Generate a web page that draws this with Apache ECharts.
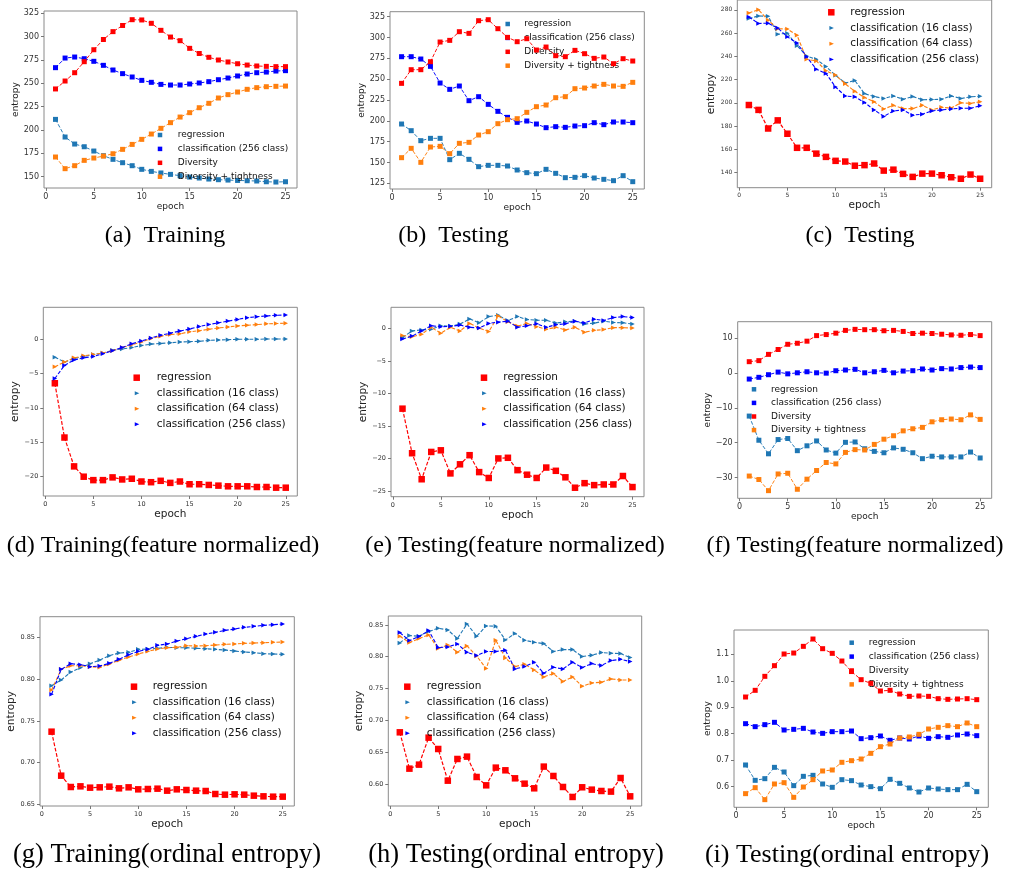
<!DOCTYPE html>
<html>
<head>
<meta charset="utf-8">
<script src="https://cdn.jsdelivr.net/npm/echarts@6/dist/echarts.min.js"></script>
<style>
html,body{margin:0;padding:0;background:#fff;}
#chart{width:1012px;height:871px;}
</style>
</head>
<body>
<div id="chart"></div>
<script>
// ---------------- data ----------------
const epochs = [1,2,3,4,5,6,7,8,9,10,11,12,13,14,15,16,17,18,19,20,21,22,23,24,25];
const xTicks = [0,5,10,15,20,25];

// (a) Training
const a_regression = [211.4,192.5,185.0,182.1,177.5,172.5,168.6,165.0,161.8,157.9,155.7,154.0,152.5,151.1,149.6,148.6,147.5,146.8,146.4,146.0,145.7,145.4,144.6,144.3,144.6];
const a_cls256 = [266.8,277.1,278.2,276.4,273.6,269.3,264.3,260.4,256.8,253.2,251.1,248.9,248.2,248.2,249.3,250.4,251.8,253.9,255.7,257.9,260.0,261.4,262.1,263.2,263.6];
const a_diversity = [244.0,252.5,261.4,273.2,286.0,297.0,305.4,312.0,318.2,317.9,314.3,306.8,299.6,295.7,287.5,282.0,277.9,275.0,272.9,271.0,269.6,268.6,268.2,267.9,267.9];
const a_divTight = [171.1,158.6,161.8,167.5,170.0,172.1,174.6,179.3,184.6,190.0,195.7,201.8,207.9,213.9,218.6,223.9,228.6,234.3,237.9,240.7,243.6,245.4,246.4,246.8,247.1];
const a_yTicks = [150,175,200,225,250,275,300,325];

// (b) Testing
const b_regression = [196.2,188.2,176.2,179.0,179.0,153.4,161.0,153.8,145.0,146.6,146.6,145.8,141.0,137.8,136.6,141.8,137.0,131.8,132.2,134.2,131.4,129.8,128.2,134.2,127.0];
const b_cls256 = [277.0,277.0,274.2,265.4,245.4,237.8,241.8,224.2,229.0,219.8,211.4,204.2,198.2,199.8,196.2,191.8,193.0,192.2,193.8,194.2,197.8,195.4,198.6,198.6,197.8];
const b_diversity = [245.0,261.4,261.4,271.0,294.6,296.6,307.0,305.0,320.2,321.4,310.6,300.2,295.0,298.6,285.0,288.6,278.2,277.0,284.6,280.6,275.0,276.6,268.6,274.6,271.8];
const b_divTight = [155.8,167.0,150.2,168.6,169.4,160.6,173.0,174.2,183.0,187.0,196.6,201.4,202.6,210.2,217.0,219.0,227.8,229.0,238.6,239.4,241.8,243.8,241.8,241.4,246.2];
const b_yTicks = [125,150,175,200,225,250,275,300,325];

// (c) Testing
const c_regression = [198.1,193.9,177.9,184.9,173.4,161.3,161.3,156.3,153.5,150.1,149.5,145.9,146.4,147.8,141.7,142.5,138.9,136.3,139.1,139.1,137.7,136.0,134.7,138.3,134.7];
const c_cls16 = [272.4,274.7,274.4,259.0,259.8,249.1,240.2,237.4,231.2,223.6,217.1,219.1,207.9,205.4,203.7,205.9,203.1,205.4,202.6,202.8,203.1,205.9,203.7,205.1,205.6];
const c_cls64 = [277.2,280.0,271.0,263.7,263.4,258.1,237.4,236.0,227.5,223.9,216.3,209.9,204.5,200.9,194.7,197.8,195.0,195.0,197.8,193.9,196.1,195.5,200.0,199.5,200.9];
const c_cls256 = [273.8,268.2,268.5,264.3,256.7,251.4,239.6,228.9,225.3,213.5,205.9,205.1,200.3,193.9,188.3,193.0,193.9,189.4,190.2,193.0,193.9,194.7,195.3,195.3,197.5];
const c_yTicks = [140,160,180,200,220,240,260,280];

// (d) Training (feature normalized)
const d_regression = [-6.4,-14.3,-18.5,-20.0,-20.5,-20.5,-20.1,-20.4,-20.3,-20.7,-20.8,-20.6,-20.9,-20.7,-21.1,-21.1,-21.2,-21.3,-21.4,-21.4,-21.4,-21.5,-21.5,-21.6,-21.6];
const d_cls16 = [-2.6,-3.3,-2.8,-2.5,-2.2,-2.0,-1.6,-1.4,-1.2,-0.9,-0.7,-0.6,-0.5,-0.4,-0.34,-0.3,-0.15,-0.1,-0.05,0.0,0.0,0.0,0.05,0.05,0.05];
const d_cls64 = [-4.0,-3.3,-2.7,-2.4,-2.2,-2.0,-1.65,-1.2,-0.8,-0.4,0.1,0.45,0.7,0.8,1.1,1.25,1.45,1.65,1.8,1.95,2.05,2.15,2.25,2.3,2.35];
const d_cls256 = [-5.7,-3.8,-3.0,-2.7,-2.5,-2.1,-1.65,-1.2,-0.65,-0.25,0.2,0.6,0.9,1.2,1.5,1.85,2.15,2.4,2.65,2.9,3.15,3.3,3.4,3.5,3.55];
const d_yTicks = [-20,-15,-10,-5,0];

// (e) Testing (feature normalized)
const e_regression = [-12.35,-19.2,-23.2,-19.0,-18.75,-22.3,-20.9,-19.5,-22.1,-23.0,-20.0,-19.9,-21.8,-22.5,-23.0,-21.4,-21.9,-22.9,-24.5,-23.8,-24.1,-24.0,-24.0,-22.7,-24.4];
const e_cls16 = [-1.4,-0.4,-0.25,-0.15,0.4,0.35,0.65,1.45,0.85,1.8,2.0,1.2,1.8,1.35,1.25,1.25,0.8,1.0,1.1,0.65,0.8,1.1,0.9,0.85,0.65];
const e_cls64 = [-1.1,-1.3,-0.9,0.15,-0.75,0.15,-0.4,0.75,0.05,-0.5,1.9,1.0,0.35,0.75,0.25,-0.15,0.15,-0.25,0.15,-0.6,-0.3,-0.2,0.1,0.1,0.05];
const e_cls256 = [-1.65,-1.2,-0.4,0.4,0.25,0.3,0.5,0.15,0.05,0.75,0.95,1.1,0.15,0.4,0.7,0.15,0.55,0.7,1.1,0.8,1.4,1.2,1.65,1.8,1.65];
const e_yTicks = [-25,-20,-15,-10,-5,0];

// (f) Testing (feature normalized)
const f_regression = [-12.35,-19.3,-23.2,-19.1,-18.8,-22.3,-20.9,-19.5,-22.1,-23.0,-19.9,-19.8,-21.75,-22.5,-22.9,-21.5,-21.9,-22.9,-24.6,-23.9,-24.1,-24.1,-24.1,-22.7,-24.4];
const f_cls256 = [-1.7,-1.2,-0.45,0.3,-0.2,0.1,0.4,0.1,0.0,0.7,0.9,1.1,0.1,0.4,0.8,0.1,0.6,0.7,1.2,0.9,1.3,1.2,1.6,1.75,1.6];
const f_diversity = [3.3,3.6,5.4,6.8,8.3,8.6,9.2,10.8,11.1,11.5,12.3,12.6,12.5,12.5,12.2,12.3,12.0,11.4,11.5,11.4,11.2,11.0,10.9,11.1,10.8];
const f_divTight = [-29.6,-30.6,-33.8,-29.0,-28.8,-33.4,-30.5,-28.0,-25.7,-26.1,-22.8,-22.0,-22.1,-20.5,-19.0,-18.0,-16.6,-16.0,-15.6,-14.0,-13.4,-13.2,-13.4,-12.0,-13.3];
const f_yTicks = [-30,-20,-10,0,10];

// (g) Training (ordinal entropy)
const g_regression = [0.7372,0.6844,0.6708,0.6716,0.6700,0.6704,0.6712,0.6692,0.6704,0.6680,0.6684,0.6688,0.6664,0.6680,0.6672,0.6664,0.6660,0.6624,0.6616,0.6620,0.6616,0.6604,0.6596,0.6592,0.6592];
const g_cls16 = [0.7924,0.7992,0.8088,0.8140,0.8188,0.8232,0.8284,0.8316,0.8324,0.8360,0.8364,0.8372,0.8384,0.8380,0.8380,0.8372,0.8368,0.8360,0.8352,0.8340,0.8328,0.8320,0.8308,0.8304,0.8300];
const g_cls64 = [0.7872,0.8120,0.8164,0.8164,0.8152,0.8144,0.8184,0.8228,0.8268,0.8304,0.8336,0.8364,0.8380,0.8384,0.8404,0.8400,0.8404,0.8412,0.8420,0.8424,0.8432,0.8436,0.8440,0.8444,0.8448];
const g_cls256 = [0.7820,0.8120,0.8188,0.8176,0.8152,0.8160,0.8192,0.8240,0.8296,0.8336,0.8360,0.8408,0.8424,0.8460,0.8488,0.8516,0.8544,0.8564,0.8588,0.8604,0.8624,0.8636,0.8648,0.8656,0.8664];
const g_yTicks = [0.65,0.70,0.75,0.80,0.85];

// (h) Testing (ordinal entropy)
const h_regression = [0.6812,0.6241,0.6304,0.6728,0.6550,0.6052,0.6393,0.6430,0.6110,0.5979,0.6257,0.6215,0.6089,0.6005,0.5932,0.6273,0.6126,0.5953,0.5796,0.5948,0.5911,0.5890,0.5880,0.6094,0.5806];
const h_cls16 = [0.8217,0.8332,0.8322,0.8395,0.8448,0.8421,0.8285,0.8516,0.8322,0.8484,0.8479,0.8264,0.8364,0.8259,0.8227,0.8206,0.8081,0.8112,0.8112,0.8002,0.8023,0.8065,0.8055,0.8049,0.7986];
const h_cls64 = [0.8322,0.8222,0.8285,0.8343,0.8128,0.8186,0.8070,0.8170,0.8013,0.7813,0.8259,0.7981,0.7845,0.7882,0.7792,0.7682,0.7735,0.7609,0.7682,0.7536,0.7588,0.7599,0.7651,0.7635,0.7635];
const h_cls256 = [0.8379,0.8254,0.8317,0.8411,0.8144,0.8154,0.8201,0.8070,0.8018,0.8081,0.8081,0.8102,0.7808,0.7845,0.7913,0.7740,0.7834,0.7808,0.7913,0.7829,0.7892,0.7861,0.7939,0.7960,0.7923];
const h_yTicks = [0.60,0.65,0.70,0.75,0.80,0.85];

// (i) Testing (ordinal entropy)
const i_regression = [0.6819,0.6239,0.6302,0.6730,0.6554,0.6038,0.6390,0.6428,0.6101,0.5975,0.6264,0.6227,0.6063,0.6000,0.5924,0.6277,0.6126,0.5950,0.5798,0.5950,0.5912,0.5887,0.5887,0.6088,0.5811];
const i_cls256 = [0.8380,0.8267,0.8343,0.8431,0.8141,0.8166,0.8204,0.8065,0.8015,0.8078,0.8078,0.8103,0.7814,0.7851,0.7914,0.7751,0.7839,0.7801,0.7914,0.7826,0.7889,0.7864,0.7952,0.7990,0.7927];
const i_diversity = [0.9388,0.9640,1.0169,1.0572,1.1013,1.1050,1.1302,1.1579,1.1214,1.1038,1.0748,1.0350,1.0043,0.9904,0.9615,0.9640,0.9501,0.9413,0.9426,0.9413,0.9325,0.9300,0.9312,0.9325,0.9287];
const i_divTight = [0.5736,0.5962,0.5509,0.6101,0.6151,0.5597,0.5987,0.6264,0.6592,0.6630,0.6920,0.6982,0.7045,0.7259,0.7511,0.7612,0.7839,0.7877,0.7977,0.8179,0.8242,0.8305,0.8267,0.8406,0.8267];
const i_yTicks = [0.6,0.7,0.8,0.9,1.0,1.1];

const captions = [
  '(a)  Training','(b)  Testing','(c)  Testing',
  '(d) Training(feature normalized)','(e) Testing(feature normalized)','(f) Testing(feature normalized)',
  '(g) Training(ordinal entropy)','(h) Testing(ordinal entropy)','(i) Testing(ordinal entropy)'
];
const seriesNamesDiv = ['regression','classification (256 class)','Diversity','Diversity + tightness'];
const seriesNamesCls = ['regression','classification (16 class)','classification (64 class)','classification (256 class)'];

// ---------------- styling / layout ----------------
const TAB_BLUE = '#1f77b4', TAB_ORANGE = '#ff7f0e', RED = '#ff0000', BLUE = '#0000ff';
const TRI = 'path://M0,0 L10,5 L0,10 Z';
const TRI_LEG = 'path://M0,0 M10,10 M2,2 L9,5 L2,8 Z';
const FONT = 'DejaVu Sans';

function divSeries(reg, cls, div, dt){
  return [
    {name:seriesNamesDiv[0], data:reg, color:TAB_BLUE, sym:'sq'},
    {name:seriesNamesDiv[1], data:cls, color:BLUE, sym:'sq'},
    {name:seriesNamesDiv[2], data:div, color:RED, sym:'sq'},
    {name:seriesNamesDiv[3], data:dt, color:TAB_ORANGE, sym:'sq'}
  ];
}
function clsSeries(reg, c16, c64, c256){
  return [
    {name:seriesNamesCls[0], data:reg, color:RED, sym:'big'},
    {name:seriesNamesCls[1], data:c16, color:TAB_BLUE, sym:'tri'},
    {name:seriesNamesCls[2], data:c64, color:TAB_ORANGE, sym:'tri'},
    {name:seriesNamesCls[3], data:c256, color:BLUE, sym:'tri'}
  ];
}

const panels = [
  {id:'a', left:44, top:11, width:253, height:177, ymin:137.9, ymax:327.5, yTicks:a_yTicks, dec:null, tickFont:8, nameFont:9, yGap:22, xGap:13,
   leg:{mx:160, tx:177.7, y0:135, sp:13.9, font:9}, cap:{x:165, y:236, fs:24}, series:divSeries(a_regression,a_cls256,a_diversity,a_divTight)},
  {id:'b', left:390, top:11.7, width:254.3, height:177.3, ymin:118.2, ymax:331, yTicks:b_yTicks, dec:null, tickFont:8, nameFont:9, yGap:20, xGap:13,
   leg:{mx:507.7, tx:524.3, y0:24, sp:13.9, font:9}, cap:{x:453.5, y:236, fs:24}, series:divSeries(b_regression,b_cls256,b_diversity,b_divTight)},
  {id:'c', left:737.3, top:-4, width:254.4, height:191.7, ymin:127, ymax:288.4, yTicks:c_yTicks, dec:null, tickFont:6, nameFont:10.5, yGap:20, xGap:12,
   leg:{mx:831.3, tx:850.3, y0:12.3, sp:15.7, font:10.5}, cap:{x:860, y:236, fs:24}, series:clsSeries(c_regression,c_cls16,c_cls64,c_cls256)},
  {id:'d', left:43.3, top:307.3, width:254, height:188.7, ymin:-22.81, ymax:4.66, yTicks:d_yTicks, dec:null, tickFont:6.5, nameFont:10.5, yGap:22, xGap:12.5,
   leg:{mx:136.7, tx:156.7, y0:377.7, sp:15.5, font:10.5}, cap:{x:163, y:546, fs:24}, series:clsSeries(d_regression,d_cls16,d_cls64,d_cls256)},
  {id:'e', left:391, top:307.3, width:253, height:189.4, ymin:-25.88, ymax:3.23, yTicks:e_yTicks, dec:null, tickFont:6.5, nameFont:10.5, yGap:22, xGap:12,
   leg:{mx:484, tx:503.3, y0:377.7, sp:15.5, font:10.5}, cap:{x:515, y:546, fs:24}, series:clsSeries(e_regression,e_cls16,e_cls64,e_cls256)},
  {id:'f', left:737.7, top:321.7, width:254, height:176.6, ymin:-36.0, ymax:14.8, yTicks:f_yTicks, dec:null, tickFont:8, nameFont:9, yGap:23, xGap:12.5,
   leg:{mx:754, tx:771, y0:389.3, sp:13.6, font:9}, cap:{x:855, y:546, fs:24}, series:divSeries(f_regression,f_cls256,f_diversity,f_divTight)},
  {id:'g', left:40, top:616.7, width:254.3, height:189.3, ymin:0.648, ymax:0.8752, yTicks:g_yTicks, dec:2, tickFont:6.5, nameFont:10.5, yGap:22, xGap:12,
   leg:{mx:134, tx:152.7, y0:686.7, sp:15.5, font:10.5}, cap:{x:167, y:855, fs:26.5}, series:clsSeries(g_regression,g_cls16,g_cls64,g_cls256)},
  {id:'h', left:388.3, top:616, width:253.4, height:190, ymin:0.5654, ymax:0.864, yTicks:h_yTicks, dec:2, tickFont:6.5, nameFont:10.5, yGap:23, xGap:12,
   leg:{mx:407.3, tx:426.7, y0:686.7, sp:15.5, font:10.5}, cap:{x:516, y:855, fs:26.5}, series:clsSeries(h_regression,h_cls16,h_cls64,h_cls256)},
  {id:'i', left:734, top:630, width:254.3, height:177.3, ymin:0.522, ymax:1.192, yTicks:i_yTicks, dec:1, tickFont:8, nameFont:9, yGap:19, xGap:12.5,
   leg:{mx:851.7, tx:868.7, y0:642.7, sp:13.9, font:9}, cap:{x:847, y:855, fs:26}, series:divSeries(i_regression,i_cls256,i_diversity,i_divTight)}
];

function fmt(dec){
  return function(v){
    const s = dec == null ? String(v) : v.toFixed(dec);
    return s.replace('-', '\u2212');
  };
}

const grids = [], xAxes = [], yAxes = [], series = [], legends = [], graphics = [];
panels.forEach(function(p, k){
  grids.push({left:p.left, top:p.top, width:p.width, height:p.height, show:true, borderColor:'#8a8a8a', borderWidth:1, backgroundColor:'rgba(0,0,0,0)'});
  xAxes.push({
    gridIndex:k, type:'value', min:-0.2, max:26.2, position:'bottom',
    name:'epoch', nameLocation:'middle', nameGap:p.xGap,
    nameTextStyle:{fontSize:p.nameFont, fontFamily:FONT, color:'#222'},
    axisLine:{show:false, onZero:false}, splitLine:{show:false},
    axisTick:{show:true, length:3, customValues:xTicks, lineStyle:{color:'#777'}},
    axisLabel:{customValues:xTicks, fontSize:p.tickFont, fontFamily:FONT, color:'#333', margin:5}
  });
  yAxes.push({
    gridIndex:k, type:'value', min:p.ymin, max:p.ymax, position:'left',
    name:'entropy', nameLocation:'middle', nameGap:p.yGap,
    nameTextStyle:{fontSize:p.nameFont, fontFamily:FONT, color:'#222'},
    axisLine:{show:false, onZero:false}, splitLine:{show:false},
    axisTick:{show:true, length:3, customValues:p.yTicks, lineStyle:{color:'#777'}},
    axisLabel:{customValues:p.yTicks, fontSize:p.tickFont, fontFamily:FONT, color:'#333', margin:5, formatter:fmt(p.dec)}
  });
  const legData = [];
  let S = 4.5;
  p.series.forEach(function(s, j){
    let symbol, size, lw, op;
    if (s.sym === 'sq'){ symbol = 'rect'; size = 5; lw = 1; op = 0.95; }
    else if (s.sym === 'big'){ symbol = 'rect'; size = 6.5; lw = 1.2; op = 1; S = 6.5; }
    else { symbol = TRI; size = 4.5; lw = 1.1; op = 1; }
    const fullName = p.id + '|' + s.name;
    series.push({
      type:'line', name:fullName, xAxisIndex:k, yAxisIndex:k,
      data: epochs.map(function(e, i){ return [e, s.data[i]]; }),
      symbol:symbol, symbolSize:size, showSymbol:true, showAllSymbol:true,
      itemStyle:{color:s.color, borderWidth:0},
      lineStyle:{color:s.color, width:lw, type:[3.7,1.8], opacity:op},
      emphasis:{disabled:true}, silent:true, animation:false, z:2+j
    });
    legData.push({name:fullName, icon: s.sym === 'tri' ? TRI_LEG : 'rect'});
  });
  const L = p.leg;
  const pad = L.tx - L.mx - S/2 - 5;
  legends.push({
    orient:'vertical', left:L.mx - S/2, top:L.y0 - L.sp/2, padding:0, itemGap:0,
    itemWidth:S, itemHeight:S, selectedMode:false, data:legData,
    formatter:function(n){ return n.split('|')[1]; },
    itemStyle:{borderWidth:0},
    textStyle:{fontSize:L.font, fontFamily:FONT, color:'#111', lineHeight:L.sp, padding:[0,0,0,pad]}
  });
  graphics.push({
    type:'text', x:p.cap.x, y:p.cap.y, silent:true,
    style:{text:captions[k], fontSize:p.cap.fs, fontFamily:'Liberation Serif', fill:'#000', align:'center', verticalAlign:'middle'}
  });
});

const chart = echarts.init(document.getElementById('chart'), null, {renderer:'canvas'});
chart.setOption({
  animation:false,
  backgroundColor:'#ffffff',
  grid:grids, xAxis:xAxes, yAxis:yAxes, series:series, legend:legends, graphic:graphics
});
</script>
</body>
</html>
